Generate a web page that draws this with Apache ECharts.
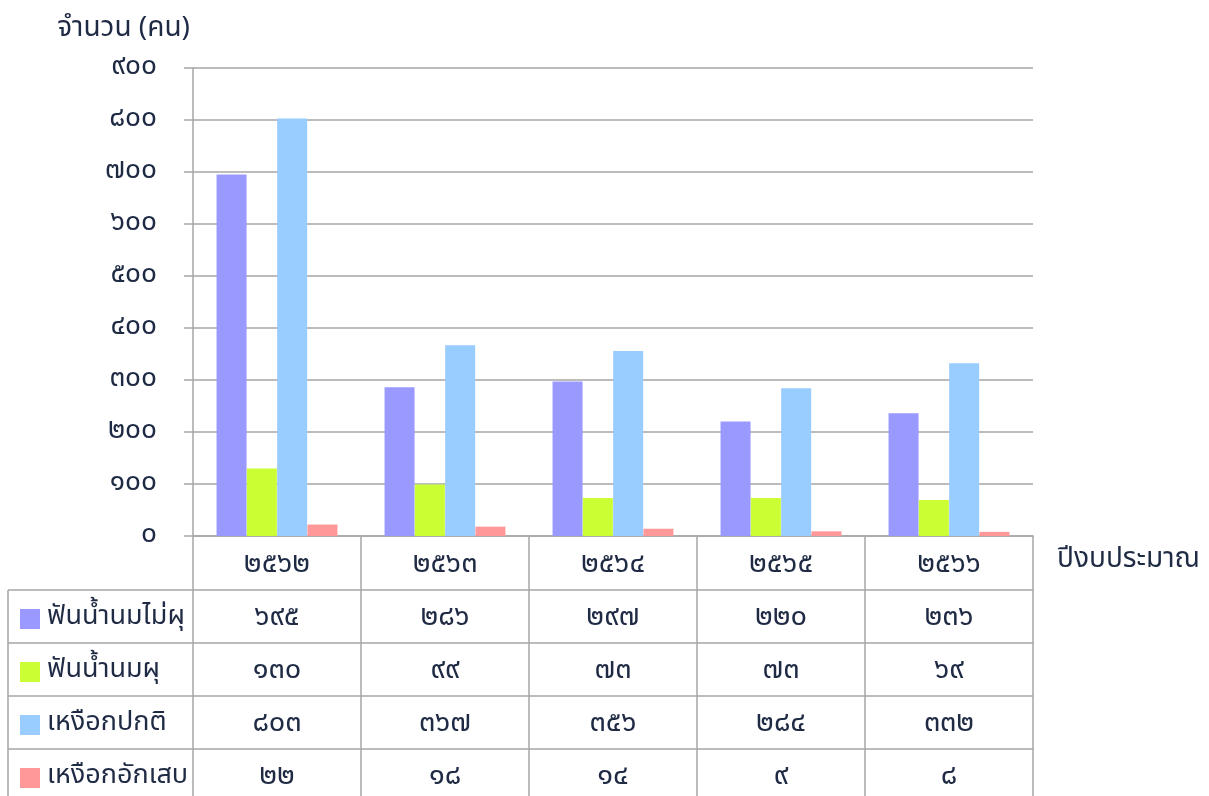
<!DOCTYPE html>
<html>
<head>
<meta charset="utf-8">
<script src="https://cdn.jsdelivr.net/npm/echarts@6/dist/echarts.min.js"></script>
<style>
html,body{margin:0;padding:0;background:#fff;}
#c{width:1209px;height:796px;}
</style>
</head>
<body>
<div id="c"></div>
<script>
// ---- data ----
const years = ['๒๕๖๒', '๒๕๖๓', '๒๕๖๔', '๒๕๖๕', '๒๕๖๖'];
const seriesNames = ['ฟันน้ำนมไม่ผุ', 'ฟันน้ำนมผุ', 'เหงือกปกติ', 'เหงือกอักเสบ'];
const toothNoCaries = [695, 286, 297, 220, 236];
const toothCaries = [130, 99, 73, 73, 69];
const gumNormal = [803, 367, 356, 284, 332];
const gumInflamed = [22, 18, 14, 9, 8];
const yTickLabels = ['๐', '๑๐๐', '๒๐๐', '๓๐๐', '๔๐๐', '๕๐๐', '๖๐๐', '๗๐๐', '๘๐๐', '๙๐๐'];
const yAxisTitle = 'จำนวน (คน)';
const xAxisTitle = 'ปีงบประมาณ';

const seriesValues = [toothNoCaries, toothCaries, gumNormal, gumInflamed];
const colors = ['#9999FF', '#CCFF33', '#99CCFF', '#FF9999'];
const TH = '๐๑๒๓๔๕๖๗๘๙';
const toThai = v => String(v).replace(/\d/g, d => TH[+d]);

const FONT = "'Noto Sans Thai', Tahoma, 'DejaVu Sans', sans-serif";
const TXT = '#1f2a44';
const LINE = '#a6a6a6';

const gridLeft = 193, gridRight = 176, gridTop = 68, gridBottom = 260;
const H = 796, W = 1209;
const axisY = H - gridBottom;
const rowH = 53;
const plotRight = W - gridRight;

const chart = echarts.init(document.getElementById('c'));

const graphics = [];
for (let i = 1; i <= 4; i++) {
  const y = axisY + 54 + (i - 1) * rowH;
  graphics.push({type: 'line', shape: {x1: 8, y1: y, x2: plotRight, y2: y}, style: {stroke: LINE, lineWidth: 1.5}, silent: true});
}
graphics.push({type: 'line', shape: {x1: 8, y1: axisY + 54, x2: 8, y2: H}, style: {stroke: LINE, lineWidth: 1.5}, silent: true});
graphics.push({type: 'text', left: 1057, top: axisY + 11, style: {text: xAxisTitle, font: '28px ' + FONT, fill: TXT}});

chart.setOption({
  animation: false,
  textStyle: {fontFamily: FONT},
  grid: {left: gridLeft, right: gridRight, top: gridTop, bottom: gridBottom, outerBoundsMode: 'none', containLabel: false},
  legend: {
    orient: 'vertical', left: 20, top: axisY + 66, height: 220, padding: 0,
    itemWidth: 20, itemHeight: 20, itemGap: 19,
    icon: 'rect',
    textStyle: {fontSize: 27, color: TXT, fontFamily: FONT, lineHeight: 34, padding: [0, 0, 0, 2]},
    data: seriesNames, selectedMode: false
  },
  xAxis: {
    type: 'category', data: years,
    axisLine: {lineStyle: {color: LINE, width: 1.5}},
    axisTick: {show: true, length: H - axisY, lineStyle: {color: LINE, width: 1.5}, alignWithLabel: false},
    axisLabel: {
      margin: 4, fontSize: 29, color: TXT, lineHeight: rowH, fontFamily: FONT,
      formatter: (v, idx) => [v].concat(seriesValues.map(s => toThai(s[idx]))).join('\n')
    },
    splitLine: {show: false}
  },
  yAxis: {
    type: 'value', min: 0, max: 900, interval: 100,
    name: yAxisTitle, nameLocation: 'end', nameGap: 24,
    nameTextStyle: {fontSize: 28, color: TXT, align: 'right', padding: [0, 3, 0, 0], fontFamily: FONT},
    axisLine: {show: true, lineStyle: {color: LINE, width: 1.5}},
    axisTick: {show: true, length: 9, lineStyle: {color: LINE, width: 1.5}},
    axisLabel: {margin: 36, fontSize: 28, color: TXT, fontFamily: FONT, formatter: v => yTickLabels[Math.round(v / 100)]},
    splitLine: {lineStyle: {color: LINE, width: 1.5}}
  },
  graphic: graphics,
  series: seriesNames.map((n, i) => ({
    name: n, type: 'bar', data: seriesValues[i],
    barWidth: 30, barGap: '1%',
    itemStyle: {color: colors[i]}
  }))
});
</script>
</body>
</html>
